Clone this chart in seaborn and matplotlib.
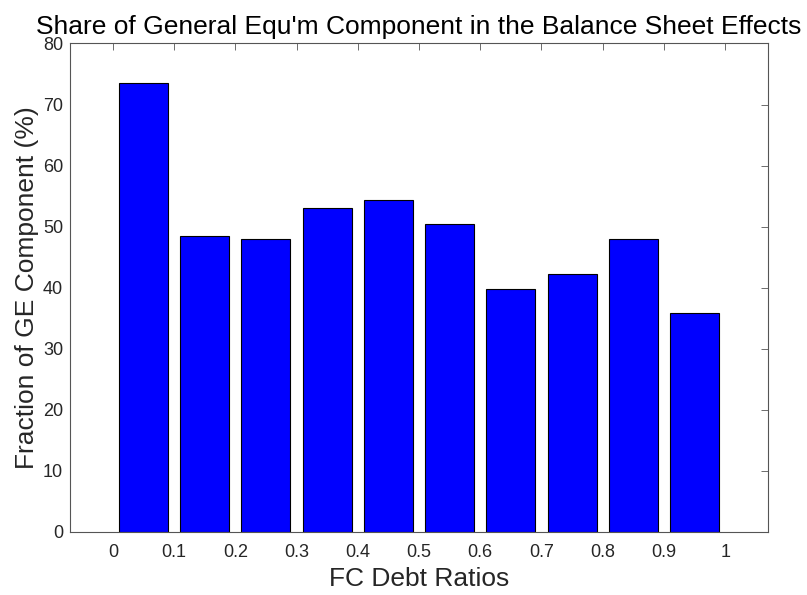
import numpy as np
import matplotlib
matplotlib.use("Agg")
import matplotlib.pyplot as plt
import pandas as pd
import seaborn as sns

# bar centres (FC debt ratio bins) and GE share values
ratio_bins = [0.05, 0.15, 0.25, 0.35, 0.45, 0.55, 0.65, 0.75, 0.85, 0.95]
ge_share = [73.6, 48.5, 48.0, 53.0, 54.4, 50.5, 39.85, 42.3, 48.0, 35.8]
x_ticks = [0, 0.1, 0.2, 0.3, 0.4, 0.5, 0.6, 0.7, 0.8, 0.9, 1]
x_tick_labels = ["0", "0.1", "0.2", "0.3", "0.4", "0.5", "0.6", "0.7", "0.8", "0.9", "1"]
y_ticks = [0, 10, 20, 30, 40, 50, 60, 70, 80]

sns.set_style("white")
plt.rcParams["font.family"] = ["Liberation Sans", "DejaVu Sans"]

df = pd.DataFrame({"ratio": ratio_bins, "share": ge_share})

fig = plt.figure(figsize=(8.07, 5.95), dpi=100)
ax = fig.add_axes([0.0867, 0.1059, 0.865, 0.821])

sns.barplot(data=df, x="ratio", y="share", native_scale=True, width=0.8,
            color="#0000ff", saturation=1, edgecolor="black", linewidth=0.8, ax=ax)

ax.set_xlim(-0.07, 1.07)
ax.set_ylim(0, 80)
ax.set_xticks(x_ticks)
ax.set_xticklabels(x_tick_labels)
ax.set_yticks(y_ticks)

txt = "#262626"
for s in ax.spines.values():
    s.set_visible(True)
    s.set_color("#555555")
    s.set_linewidth(0.8)
ax.tick_params(direction="in", top=True, right=True, length=5, width=0.6,
               colors="#555555", labelcolor=txt, labelsize=13)
ax.tick_params(axis="x", pad=9)
ax.tick_params(axis="y", pad=5)

ax.set_xlabel("FC Debt Ratios", fontsize=19, color=txt, labelpad=4)
ax.set_ylabel("Fraction of GE Component (%)", fontsize=19, color=txt, labelpad=3)
ax.set_title("Share of General Equ'm Component in the Balance Sheet Effects",
             fontsize=19, color="black", pad=7)

fig.savefig("out.png", dpi=100)
